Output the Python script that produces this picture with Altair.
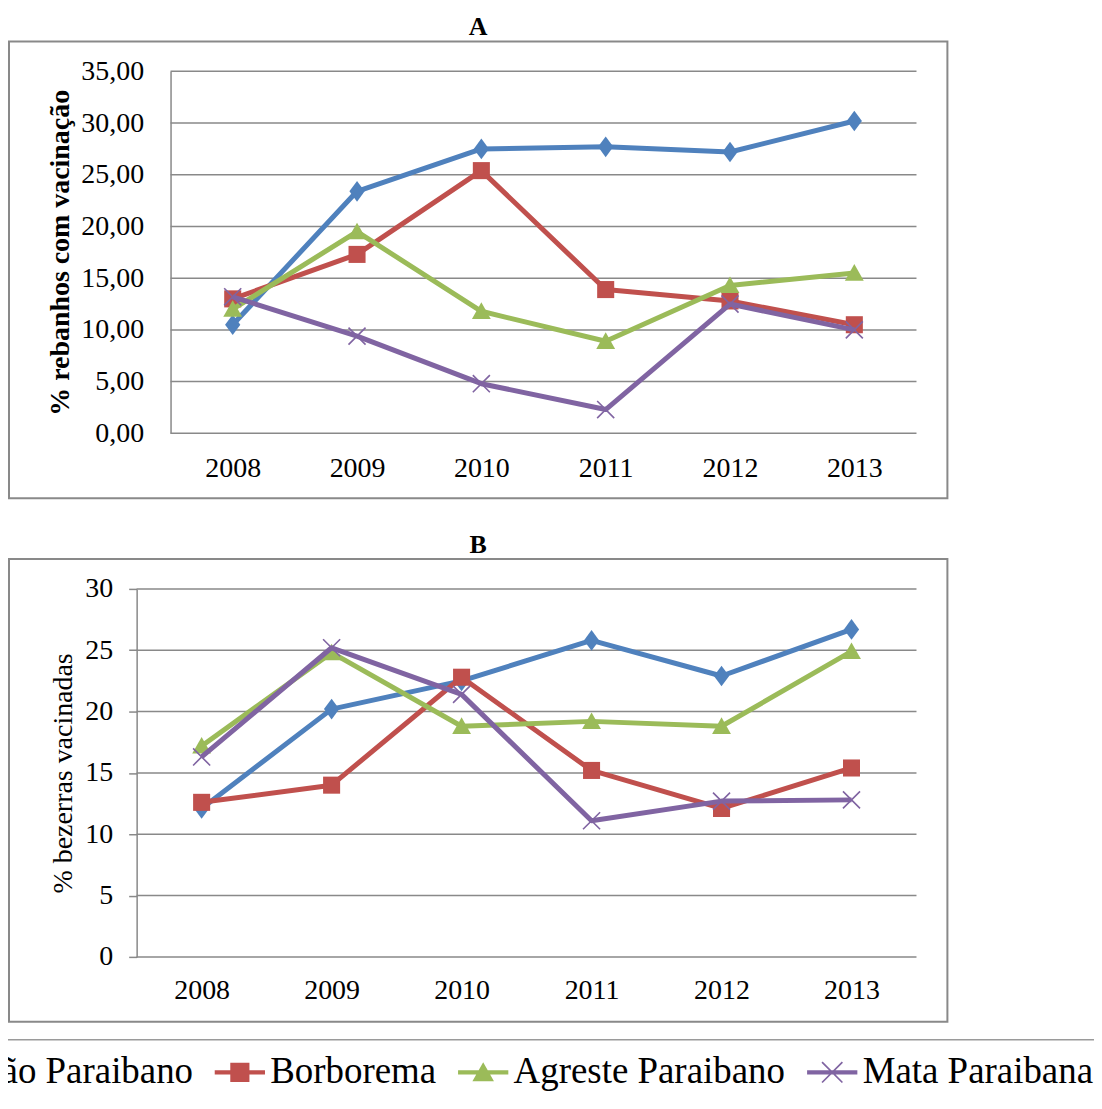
import altair as alt
import pandas as pd

years = ["2008", "2009", "2010", "2011", "2012", "2013"]
series = ["Sertão Paraibano", "Borborema", "Agreste Paraibano", "Mata Paraibana"]
colors = ["#4F81BD", "#C0504D", "#9BBB59", "#8064A2"]

# Panel A: % rebanhos com vacinação
a_sertao = [10.5, 23.4, 27.5, 27.7, 27.2, 30.2]
a_borborema = [13.0, 17.3, 25.4, 13.9, 12.8, 10.5]
a_agreste = [12.0, 19.5, 11.8, 8.9, 14.3, 15.5]
a_mata = [13.2, 9.4, 4.8, 2.3, 12.5, 10.0]

# Panel B: % bezerras vacinadas
b_sertao = [12.1, 20.2, 22.5, 25.8, 22.9, 26.7]
b_borborema = [12.6, 14.0, 22.8, 15.2, 12.1, 15.4]
b_agreste = [17.2, 24.8, 18.8, 19.2, 18.8, 24.9]
b_mata = [16.3, 25.2, 21.4, 11.1, 12.7, 12.8]

a_ticks = [0, 5, 10, 15, 20, 25, 30, 35]
b_ticks = [0, 5, 10, 15, 20, 25, 30]

FONT = "Liberation Serif"
GRAY = "#898989"

marker_paths = [
    "M0,-1.15L0.85,0L0,1.15L-0.85,0Z",
    "M-0.95,-0.95H0.95V0.95H-0.95Z",
    "M0,-1.0L1.05,0.85L-1.05,0.85Z",
    "M-0.95,-0.95L0.95,0.95M-0.95,0.95L0.95,-0.95",
]
LINE = "M-2.1,-0.18H2.1V0.18H-2.1Z"
legend_paths = [
    LINE + "M0,-0.95L0.7,0L0,0.95L-0.7,0Z",
    LINE + "M-0.8,-0.8H0.8V0.8H-0.8Z",
    LINE + "M0,-0.85L0.9,0.75L-0.9,0.75Z",
    LINE + "M-0.9,-0.8L-0.8,-0.9L0.9,0.8L0.8,0.9Z"
    "M-0.9,0.8L0.8,-0.9L0.9,-0.8L-0.8,0.9Z",
]


def make_df(cols):
    rows = []
    for name, vals in zip(series, cols):
        for yr, v in zip(years, vals):
            rows.append({"year": yr, "serie": name, "value": v})
    return pd.DataFrame(rows)


df_a = make_df([a_sertao, a_borborema, a_agreste, a_mata])
df_b = make_df([b_sertao, b_borborema, b_agreste, b_mata])

color_scale = alt.Scale(domain=series, range=colors)
shape_scale = alt.Scale(domain=series, range=legend_paths)

PLOT_W = 782
legend = alt.Legend(
    title=None, orient="none", legendX=-244, legendY=985,
    direction="horizontal", columns=4,
    labelFont=FONT, labelFontSize=37, labelColor="black", labelLimit=600,
    symbolSize=576, symbolStrokeWidth=0, symbolOpacity=1,
    labelOffset=12, columnPadding=21, padding=0,
)


def panel(df, height, y_max, y_ticks, label_expr, y_title, title_weight,
          title_x, y_label_pad, y_tick_size, x_label_pad, inset, frame, letter, extra):
    x_enc = alt.X("year:N", sort=years, title=None,
                  scale=alt.Scale(type="point", padding=0.5, range=[inset, PLOT_W]),
                  axis=alt.Axis(grid=False, ticks=False, labelAngle=0, domain=False,
                                labelPadding=x_label_pad))
    y_enc = alt.Y("value:Q", scale=alt.Scale(domain=[0, y_max], nice=False, zero=True),
                  axis=alt.Axis(values=y_ticks, labelExpr=label_expr, title=y_title,
                                titleFontWeight=title_weight, titleX=title_x,
                                titleY=height / 2, titleBaseline="alphabetic",
                                titleAngle=-90, titleAlign="center",
                                ticks=y_tick_size > 0, tickSize=max(y_tick_size, 1),
                                tickColor=GRAY, tickWidth=1.5, offset=-inset,
                                labelPadding=y_label_pad, grid=False,
                                domainColor=GRAY, domainWidth=1.5))
    fx1, fx2, fy1, fy2 = frame
    grid_df = pd.DataFrame({"value": y_ticks})
    layers = [
        alt.Chart(alt.Data(values=[{"f": 1}])).mark_rect(
            fill="white", fillOpacity=0, stroke=GRAY, strokeWidth=2
        ).encode(x=alt.value(fx1), x2=alt.value(fx2), y=alt.value(fy1), y2=alt.value(fy2)),
        alt.Chart(grid_df).mark_rule(color=GRAY, strokeWidth=1.5).encode(
            y=y_enc, x=alt.value(inset), x2=alt.value(PLOT_W)),
        # legend source: the series, drawn at zero size so that only the legend shows them
        alt.Chart(df).mark_point(filled=True, opacity=1, size=0).encode(
            x=x_enc, y=y_enc,
            color=alt.Color("serie:N", scale=color_scale, legend=legend),
            shape=alt.Shape("serie:N", scale=shape_scale, legend=legend)),
    ]
    for i, name in enumerate(series):
        base = alt.Chart(df).transform_filter(alt.datum.serie == name)
        layers.append(
            base.mark_line(strokeWidth=5, strokeJoin="round").encode(
                x=x_enc, y=y_enc,
                color=alt.Color("serie:N", scale=color_scale))
        )
        if i == 3:
            pm = base.mark_point(shape=marker_paths[i], size=324, filled=False,
                                 strokeWidth=1.6, opacity=1)
        else:
            pm = base.mark_point(shape=marker_paths[i], size=324, filled=True,
                                 strokeWidth=0, opacity=1)
        layers.append(pm.encode(
            x=x_enc, y=y_enc,
            color=alt.Color("serie:N", scale=color_scale)))
    layers.extend(extra)
    return alt.layer(*layers).properties(
        width=PLOT_W, height=height,
        title=alt.Title(letter, font=FONT, fontSize=26, fontWeight="bold",
                        anchor="middle", frame="group", offset=-21, dx=-48.5,
                        baseline="alphabetic", color="black"),
    )


label_a = "replace(format(datum.value, '.2f'), '.', ',')"
label_b = "format(datum.value, 'd')"

chart_a = panel(df_a, 363, 35, a_ticks, label_a, "% rebanhos com vacinação", "bold",
                -102, 27, 0, 21, 34, (-128, 813, -30, 428), "A", [])

# top edge of the legend box
legend_rule = alt.Chart(alt.Data(values=[{"f": 1}])).mark_rule(
    stroke="#9a9a9a", strokeWidth=1.5
).encode(x=alt.value(-136), x2=alt.value(1014), y=alt.value(452))
# transparent area, wider than the page, that fixes the extent of the legend box
legend_area = alt.Chart(alt.Data(values=[{"f": 1}])).mark_rect(
    opacity=0
).encode(x=alt.value(-336), x2=alt.value(1014), y=alt.value(452), y2=alt.value(510))

chart_b = panel(df_b, 369, 30, b_ticks, label_b, "% bezerras vacinadas", "normal",
                -65, 16, 8, 20, 0, (-128, 813, -30, 434), "B",
                [legend_area, legend_rule])

chart = alt.vconcat(chart_a, chart_b, spacing=31).properties(
    padding={"left": -208, "top": 4, "right": -56, "bottom": 0}
).configure_view(stroke="transparent").configure_axis(
    labelFont=FONT, labelFontSize=28, labelColor="black",
    titleFont=FONT, titleFontSize=28, titleColor="black",
)

chart.save("out.html", embed_options={"renderer": "svg", "actions": False})
